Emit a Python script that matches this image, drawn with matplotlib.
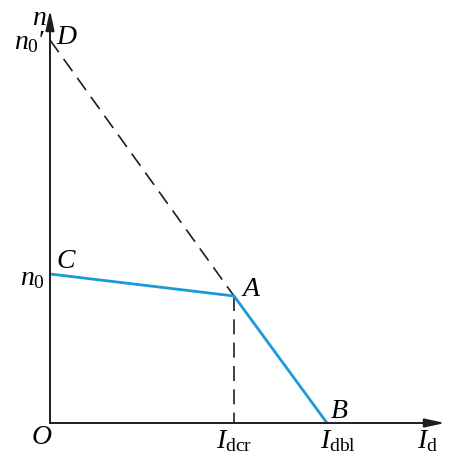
import matplotlib
matplotlib.use("Agg")
import matplotlib.pyplot as plt

plt.rcParams['mathtext.fontset'] = 'custom'
plt.rcParams['mathtext.rm'] = 'Liberation Serif'
plt.rcParams['mathtext.it'] = 'Liberation Serif:italic'

# key values (in axis units)
n0 = 149
n0p = 383
I_dcr = 184
I_dbl = 277
n_A = 127
x_end = 395
y_end = 413

blue = '#1a9bd7'
dark = '#1e1e1e'

fig = plt.figure(figsize=(4.60, 4.69), dpi=100)
ax = fig.add_axes([0, 0, 1, 1])
ax.set_xlim(-50, 410)
ax.set_ylim(-46, 423)
ax.axis('off')

# axes with arrows
arrow_kw = dict(arrowstyle='-|>,head_length=0.6,head_width=0.13', color=dark, lw=1.4,
                shrinkA=0, shrinkB=0, mutation_scale=20)
ax.annotate('', xy=(x_end, 0), xytext=(0, 0), arrowprops=arrow_kw)
ax.annotate('', xy=(0, y_end), xytext=(0, 0), arrowprops=arrow_kw)

# dashed lines
ax.plot([0, I_dcr], [n0p, n_A], color=dark, lw=1.2, ls=(0, (9, 5)))
ax.plot([I_dcr, I_dcr], [n_A, 0], color=dark, lw=1.2, ls=(0, (9, 5)))

# characteristic
ax.plot([0, I_dcr, I_dbl], [n0, n_A, 0], color=blue, lw=2.0, solid_capstyle='butt')

fs = 20
ax.text(-11, 406, r'$n$', fontsize=fs, ha='center', va='center')
ax.text(-5, 381, r"$n_0$′", fontsize=fs, ha='right', va='center', family='Liberation Serif')
ax.text(17, 387, r'$D$', fontsize=fs, ha='center', va='center')
ax.text(16, 163, r'$C$', fontsize=fs, ha='center', va='center')
ax.text(-5, 146, r'$n_0$', fontsize=fs, ha='right', va='center')
ax.text(201, 135, r'$A$', fontsize=fs, ha='center', va='center')
ax.text(289, 13, r'$B$', fontsize=fs, ha='center', va='center')
ax.text(-8, -13, r'$O$', fontsize=fs, ha='center', va='center')
ax.text(I_dcr, -17, r'$I_{\mathrm{dcr}}$', fontsize=fs, ha='center', va='center')
ax.text(I_dbl + 11, -17, r'$I_{\mathrm{dbl}}$', fontsize=fs, ha='center', va='center')
ax.text(377, -17, r'$I_{\mathrm{d}}$', fontsize=fs, ha='center', va='center')

fig.savefig('out.png', dpi=100)
